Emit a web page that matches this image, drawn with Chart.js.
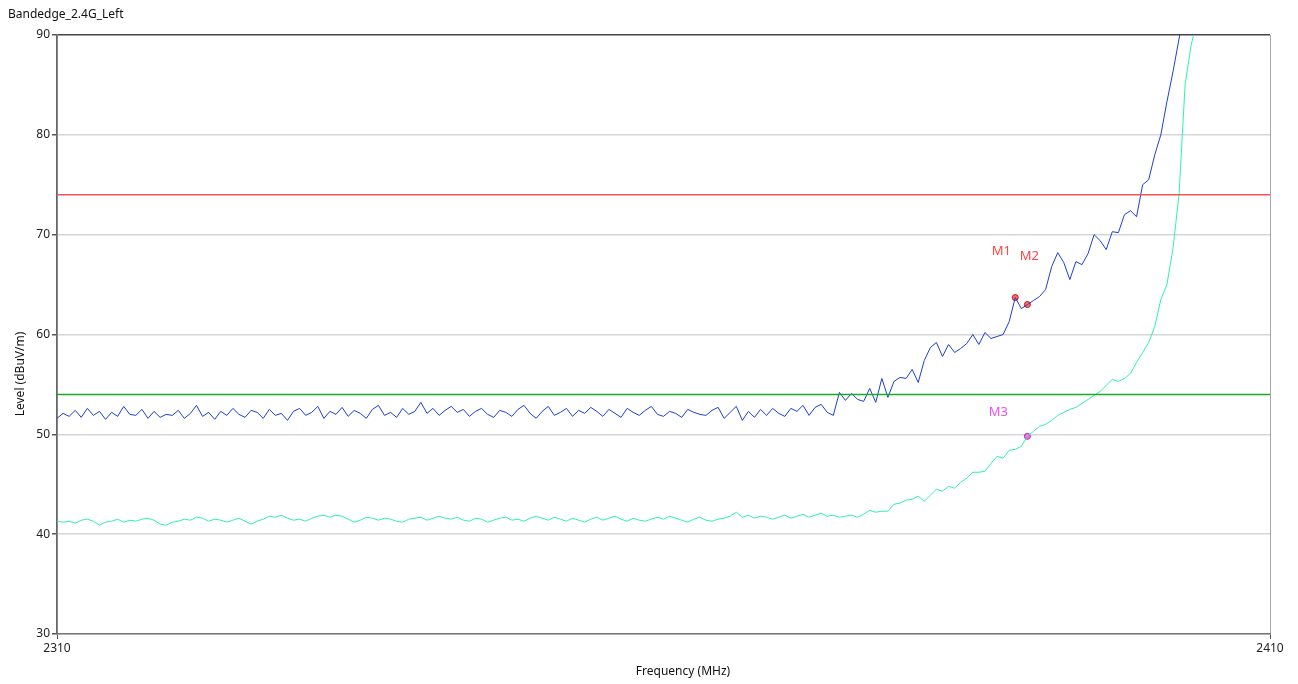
<!DOCTYPE html>
<html>
<head>
<meta charset="utf-8">
<title>Bandedge_2.4G_Left</title>
<script src="https://cdn.jsdelivr.net/npm/chart.js@4.4.1/dist/chart.umd.min.js"></script>
<style>
  html,body{margin:0;padding:0;background:#fff;}
  #wrap{width:1298px;height:684px;position:relative;}
</style>
</head>
<body>
<div id="wrap"><canvas id="chartBandedge"></canvas></div>
<script>
// sweep: 2310 MHz upwards, 0.5 MHz per point
const freqStart = 2310, freqStep = 0.5;

// peak trace (blue), dBuV/m
const peakLevels = [
  51.6,52.1,51.8,52.4,51.7,52.6,51.9,52.3,51.5,52.2,
  51.8,52.8,52.0,51.9,52.5,51.6,52.3,51.7,52.0,51.9,
  52.4,51.6,52.1,52.9,51.8,52.2,51.5,52.3,51.9,52.6,
  52.0,51.7,52.4,52.2,51.6,52.5,51.9,52.1,51.4,52.3,
  52.6,51.9,52.2,52.8,51.6,52.3,52.0,52.7,51.8,52.4,
  52.1,51.6,52.5,52.9,51.9,52.2,51.7,52.6,52.0,52.3,
  53.2,52.1,52.6,51.9,52.4,52.8,52.2,52.5,51.8,52.3,
  52.6,52.0,51.7,52.4,52.2,51.8,52.5,52.9,52.1,51.6,
  52.3,52.8,51.9,52.2,52.6,51.8,52.4,52.1,52.7,52.3,
  51.8,52.5,52.1,51.7,52.6,52.2,51.9,52.4,52.8,52.0,
  51.8,52.3,52.1,51.7,52.5,52.2,52.0,51.9,52.4,52.7,
  51.6,52.2,52.8,51.4,52.3,51.7,52.5,51.9,52.6,52.1,
  51.8,52.6,52.3,52.9,51.9,52.7,53.0,52.2,51.9,
  54.2,53.4,54.1,53.5,53.3,54.6,53.2,55.6,53.7,55.3,
  55.7,55.6,56.5,55.2,57.4,58.7,59.2,57.8,59.0,58.2,
  58.6,59.1,60.0,59.0,60.2,59.6,59.8,60.0,61.3,63.7,
  62.6,63.0,63.4,63.8,64.5,66.8,68.2,67.2,65.5,67.3,
  67.0,68.1,70.0,69.4,68.5,70.3,70.2,72.0,72.4,71.8,
  75.0,75.5,78.0,80.0,83.3,86.3,89.6,93.0,95.0
];

// average trace (green), dBuV/m
const avgLevels = [
  41.3,41.2,41.3,41.1,41.4,41.5,41.3,40.9,41.2,41.3,
  41.5,41.2,41.4,41.3,41.5,41.6,41.4,41.0,40.9,41.2,
  41.3,41.5,41.4,41.7,41.6,41.3,41.5,41.4,41.2,41.4,
  41.6,41.3,41.0,41.3,41.5,41.8,41.7,41.9,41.6,41.4,
  41.5,41.3,41.6,41.8,41.9,41.7,41.9,41.8,41.5,41.2,
  41.4,41.7,41.6,41.4,41.6,41.5,41.3,41.2,41.5,41.6,
  41.7,41.4,41.6,41.8,41.6,41.5,41.7,41.4,41.3,41.6,
  41.5,41.2,41.4,41.6,41.7,41.4,41.5,41.3,41.6,41.8,
  41.6,41.4,41.7,41.5,41.3,41.6,41.4,41.2,41.5,41.7,
  41.4,41.6,41.8,41.5,41.3,41.6,41.4,41.3,41.5,41.7,
  41.5,41.8,41.6,41.4,41.2,41.5,41.7,41.4,41.3,41.5,
  41.6,41.8,42.2,41.7,41.9,41.6,41.8,41.7,41.5,41.7,
  41.9,41.6,41.8,42.0,41.7,41.9,42.1,41.8,41.9,
  41.7,41.8,41.9,41.7,42.0,42.4,42.2,42.3,42.3,43.0,
  43.1,43.4,43.5,43.8,43.3,43.9,44.5,44.3,44.8,44.6,
  45.2,45.6,46.2,46.2,46.3,47.1,47.8,47.6,48.4,48.5,
  48.8,49.8,50.3,50.8,51.0,51.4,51.9,52.2,52.5,52.7,
  53.1,53.5,53.9,54.3,54.9,55.5,55.3,55.6,56.1,57.2,
  58.2,59.2,60.8,63.5,65.0,68.6,74.0,85.0,89.0,91.5,
  93.0
];

const limitFreqs = [2310, 2410];
const peakLimit = 74;
const avgLimit = 54;

const markerNames  = ['M1', 'M2', 'M3'];
const markerFreqs  = [2389, 2390, 2390];
const markerLevels = [63.7, 63.0, 49.8];

const xTickValues = [2310, 2410];
const yMin = 30, yMax = 90, yStep = 10;

const FONT = '"Noto Sans", "Open Sans", sans-serif';
Chart.defaults.font.family = FONT;
Chart.defaults.font.size = 12;
Chart.defaults.color = '#222';

const toXY = levels => levels.map((v,i)=>({x: freqStart + i*freqStep, y: v}));

// title, axis titles and marker labels
const textPlugin = {
  id: 'textPlugin',
  afterDraw(chart){
    const {ctx, scales:{x, y}} = chart;
    ctx.save();
    ctx.font = '12px ' + FONT;
    ctx.fillStyle = '#111';
    ctx.textBaseline = 'middle';
    ctx.textAlign = 'left';
    ctx.fillText('Bandedge_2.4G_Left', 8, 15);

    ctx.textAlign = 'center';
    ctx.fillText('Frequency (MHz)', 683, 672);
    ctx.translate(21, 374);
    ctx.rotate(-Math.PI/2);
    ctx.fillText('Level (dBuV/m)', 0, 0);
    ctx.restore();

    ctx.save();
    ctx.font = '13px ' + FONT;
    ctx.textAlign = 'center';
    ctx.textBaseline = 'middle';
    const offs = [[-14,-46],[2,-48],[-29,-24]];
    markerNames.forEach((n,i)=>{
      const px = x.getPixelForValue(markerFreqs[i]);
      const py = y.getPixelForValue(markerLevels[i]);
      ctx.fillStyle = n==='M3' ? '#ee4ef0' : '#ff4545';
      ctx.fillText(n, px+offs[i][0], py+offs[i][1]);
    });
    ctx.restore();
  }
};

new Chart(document.getElementById('chartBandedge'), {
  type: 'line',
  data: {
    datasets: [
      {label:'Peak limit', data: limitFreqs.map(f=>({x:f,y:peakLimit})), borderColor:'#f25555', borderWidth:1.5, pointRadius:0},
      {label:'Avg limit', data: limitFreqs.map(f=>({x:f,y:avgLimit})), borderColor:'#1aab28', borderWidth:1.5, pointRadius:0},
      {label:'Peak', data: toXY(peakLevels), borderColor:'#1c3fd2', borderWidth:1, pointRadius:0, tension:0},
      {label:'Average', data: toXY(avgLevels), borderColor:'#2ef2a6', borderWidth:1, pointRadius:0, tension:0},
      {label:'Markers', type:'scatter',
        data: markerFreqs.map((f,i)=>({x:f,y:markerLevels[i]})),
        pointRadius:3, pointBorderWidth:1,
        pointBackgroundColor:['#ff6a6a','#ff6a6a','#f070f0'],
        pointBorderColor:['#d01010','#d01010','#c020c0'],
        showLine:false}
    ]
  },
  options: {
    responsive: true,
    maintainAspectRatio: false,
    animation: false,
    layout: {padding: {top: 35, right: 28, left: 0, bottom: 0}},
    plugins: {legend: {display: false}, tooltip: {enabled: false}, title: {display: false}},
    scales: {
      x: {
        type: 'linear', min: 2310, max: 2410,
        afterBuildTicks: s => { s.ticks = xTickValues.map(v=>({value:v})); },
        afterFit: s => { s.height = 50; },
        grid: {color: '#a8a8a8', tickColor: '#555', tickLength: 5, lineWidth: 1},
        border: {color: '#777', width: 1.5},
        ticks: {padding: 2, maxRotation: 0, color: '#222', callback: v => String(v)}
      },
      y: {
        min: yMin, max: yMax,
        afterFit: s => { s.width = 57; },
        grid: {
          color: c => c.tick && c.tick.value === yMax ? '#444' : '#d6d6d6',
          lineWidth: 1.5,
          tickColor: '#555', tickLength: 5
        },
        border: {color: '#666', width: 1.5},
        ticks: {stepSize: yStep, padding: 2, color: '#222'}
      }
    }
  },
  plugins: [textPlugin]
});
</script>
</body>
</html>
